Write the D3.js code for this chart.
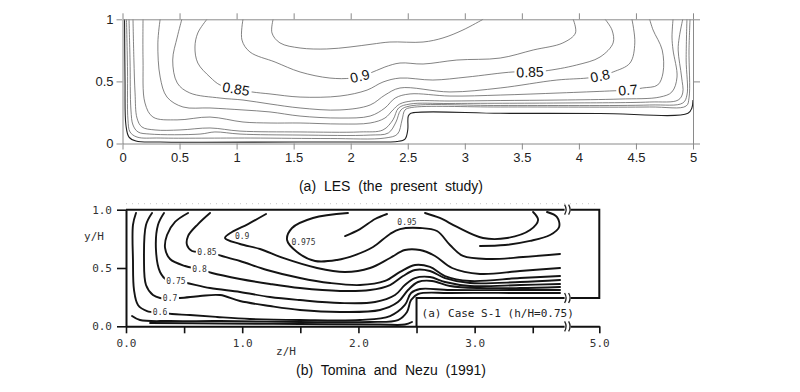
<!DOCTYPE html>
<html>
<head>
<meta charset="utf-8">
<script src="https://cdn.jsdelivr.net/npm/d3@7/dist/d3.min.js"></script>
<style>
html,body{margin:0;padding:0;background:#fff;}
svg{display:block;}
</style>
</head>
<body>
<svg id="chart" width="800" height="392"></svg>
<script>
// ================= Panel (a): LES (the present study) =================
const lesTickValuesX = [0, 0.5, 1, 1.5, 2, 2.5, 3, 3.5, 4, 4.5, 5];
const lesTickLabelsX = ["0", "0.5", "1", "1.5", "2", "2.5", "3", "3.5", "4", "4.5", "5"];
const lesTickValuesY = [0, 0.5, 1];
const lesTickLabelsY = ["0", "0.5", "1"];

// contour polylines [z/H, y/H]
const lesC1 = [[1.32,1.0],[1.31,0.89],[1.38,0.81],[1.556,0.769],[1.79,0.761],[1.994,0.777],[2.187,0.80],[2.344,0.817],[2.634,0.817],[2.809,0.85],[2.984,0.914],[3.16,1.0]];
const les090 = [[1.056,1.0],[1.047,0.833],[1.117,0.737],[1.337,0.656],[1.556,0.576],[1.818,0.527],[2.011,0.527],[2.152,0.56],[2.30,0.616],[2.432,0.648],[2.634,0.64],[2.93,0.672],[3.31,0.688],[3.60,0.753],[3.86,0.81],[3.97,0.89],[3.95,1.0]];
const les085 = [[0.74,1.0],[0.66,0.89],[0.635,0.777],[0.66,0.648],[0.767,0.535],[0.855,0.471],[0.995,0.439],[1.135,0.415],[1.293,0.399],[1.556,0.374],[1.906,0.382],[2.143,0.43],[2.283,0.495],[2.432,0.527],[2.72,0.511],[3.02,0.535],[3.423,0.576],[3.572,0.576],[3.70,0.584],[3.98,0.632],[4.185,0.696],[4.30,0.81],[4.29,0.914],[4.23,1.0]];
const les080 = [[0.52,1.0],[0.48,0.857],[0.44,0.672],[0.48,0.487],[0.59,0.407],[0.855,0.366],[1.056,0.35],[1.293,0.318],[1.556,0.286],[1.906,0.27],[2.17,0.31],[2.30,0.39],[2.432,0.447],[2.87,0.415],[3.31,0.447],[3.807,0.511],[4.07,0.527],[4.185,0.543],[4.30,0.576],[4.448,0.648],[4.49,0.81],[4.465,1.0]];
const les070 = [[0.33,1.0],[0.31,0.81],[0.33,0.535],[0.39,0.374],[0.53,0.294],[0.767,0.286],[1.056,0.27],[1.293,0.254],[1.556,0.221],[1.906,0.205],[2.17,0.221],[2.30,0.286],[2.39,0.366],[2.52,0.399],[2.87,0.382],[3.31,0.39],[3.834,0.407],[4.27,0.423],[4.43,0.43],[4.56,0.447],[4.69,0.471],[4.737,0.568],[4.73,0.753],[4.65,0.914],[4.62,1.0]];
const les060 = [[0.18,1.0],[0.18,0.672],[0.197,0.326],[0.267,0.213],[0.478,0.19],[0.767,0.213],[1.056,0.173],[1.293,0.165],[1.556,0.165],[1.906,0.157],[2.17,0.165],[2.30,0.205],[2.37,0.27],[2.43,0.318],[2.535,0.342],[2.87,0.342],[3.31,0.346],[3.834,0.35],[4.36,0.358],[4.71,0.374],[4.815,0.415],[4.86,0.535],[4.825,0.753],[4.816,0.857],[4.825,1.0]];
const les050 = [[0.092,1.0],[0.10,0.672],[0.11,0.407],[0.127,0.205],[0.17,0.133],[0.285,0.109],[0.504,0.109],[0.767,0.125],[1.03,0.10],[1.556,0.093],[2.08,0.093],[2.283,0.109],[2.37,0.19],[2.42,0.286],[2.52,0.318],[2.87,0.322],[3.834,0.326],[4.62,0.334],[4.87,0.35],[4.91,0.407],[4.90,0.535],[4.87,0.753],[4.88,0.857],[4.91,1.0]];
const les040 = [[0.057,1.0],[0.066,0.672],[0.074,0.27],[0.092,0.149],[0.136,0.093],[0.24,0.076],[0.68,0.076],[0.81,0.093],[1.03,0.076],[1.556,0.068],[2.17,0.068],[2.33,0.085],[2.397,0.173],[2.44,0.27],[2.52,0.302],[3.31,0.306],[4.62,0.31],[4.91,0.326],[4.947,0.39],[4.94,0.672],[4.947,1.0]];
const les030 = [[0.035,1.0],[0.044,0.592],[0.048,0.19],[0.066,0.093],[0.127,0.052],[0.33,0.044],[1.12,0.044],[1.82,0.04],[2.30,0.044],[2.41,0.076],[2.45,0.19],[2.476,0.27],[2.535,0.29],[3.31,0.294],[4.62,0.294],[4.94,0.302],[4.965,0.366],[4.965,0.753],[4.974,1.0]];
const lesWall = [[0.018,1.0],[0.022,0.511],[0.03,0.149],[0.057,0.052],[0.118,0.02],[0.33,0.012],[1.556,0.012],[2.257,0.012],[2.406,0.016],[2.476,0.036],[2.50,0.109],[2.505,0.221],[2.527,0.243],[3.31,0.243],[4.185,0.242],[4.956,0.243],[4.99,0.286],[5.0,0.35]];

const lesLabelText  = ["0.85", "0.9", "0.85", "0.8", "0.7"];
const lesLabelZ     = [0.995, 2.08, 3.572, 4.185, 4.43];
const lesLabelY     = [0.44, 0.543, 0.576, 0.545, 0.432];
const lesLabelAngle = [10, -14, -2, -12, -5];

// ================= Panel (b): Tomina and Nezu (1991) =================
const tnTickValuesX = [0, 0.5, 1, 1.5, 2, 2.5, 3, 3.5, 5];
const tnTickLabelsX = ["0.0", "", "1.0", "", "2.0", "", "3.0", "", "5.0"];
const tnTickValuesY = [0, 0.5, 1];
const tnTickLabelsY = ["0.0", "0.5", "1.0"];
const tnStepZ = 2.5;
const tnStepY = 0.243;
const tnBreakZ = 3.8;

const tn060 = [[0.086,0.972],[0.06,0.869],[0.06,0.569],[0.069,0.311],[0.103,0.183],[0.181,0.131],[0.293,0.118],[0.396,0.105],[0.55,0.097],[0.783,0.08],[1.067,0.063],[1.497,0.054],[2.014,0.054],[2.272,0.088],[2.40,0.183],[2.453,0.286],[2.53,0.32],[2.788,0.311],[3.39,0.311],[3.735,0.311]];
const tn070 = [[0.224,0.972],[0.172,0.869],[0.155,0.569],[0.172,0.354],[0.232,0.268],[0.293,0.243],[0.379,0.243],[0.465,0.243],[0.637,0.26],[0.809,0.268],[0.981,0.217],[1.239,0.174],[1.497,0.14],[1.842,0.123],[2.186,0.14],[2.34,0.208],[2.427,0.311],[2.513,0.38],[2.633,0.389],[2.788,0.346],[3.046,0.328],[3.39,0.328],[3.735,0.337]];
const tn075 = [[0.327,0.972],[0.275,0.869],[0.258,0.654],[0.293,0.466],[0.353,0.397],[0.43,0.389],[0.525,0.371],[0.723,0.328],[0.981,0.294],[1.239,0.251],[1.497,0.225],[1.842,0.2],[2.143,0.208],[2.315,0.268],[2.40,0.354],[2.487,0.414],[2.616,0.423],[2.745,0.38],[2.96,0.346],[3.39,0.354],[3.735,0.363]];
const tn080 = [[0.534,0.972],[0.422,0.895],[0.353,0.783],[0.336,0.672],[0.379,0.577],[0.508,0.517],[0.633,0.491],[0.74,0.457],[0.981,0.406],[1.239,0.363],[1.497,0.328],[1.842,0.303],[2.1,0.311],[2.272,0.354],[2.384,0.431],[2.487,0.483],[2.616,0.474],[2.745,0.414],[2.96,0.371],[3.39,0.38],[3.735,0.397]];
const tn085 = [[0.723,0.972],[0.62,0.877],[0.534,0.774],[0.525,0.697],[0.568,0.646],[0.697,0.637],[0.826,0.603],[0.981,0.56],[1.213,0.483],[1.497,0.414],[1.756,0.371],[2.014,0.354],[2.229,0.389],[2.358,0.466],[2.487,0.526],[2.616,0.509],[2.745,0.431],[2.96,0.389],[3.39,0.414],[3.735,0.431]];
const tn090 = [[1.205,0.963],[1.05,0.877],[0.912,0.809],[0.852,0.757],[0.981,0.706],[1.153,0.663],[1.351,0.586],[1.644,0.5],[1.885,0.466],[2.1,0.5],[2.272,0.586],[2.40,0.654],[2.53,0.654],[2.659,0.603],[2.806,0.5],[3.046,0.449],[3.39,0.474],[3.735,0.5]];
const tn095 = [[1.91,0.972],[1.609,0.929],[1.429,0.843],[1.386,0.74],[1.472,0.637],[1.627,0.56],[1.816,0.569],[1.971,0.611],[2.126,0.68],[2.272,0.792],[2.358,0.834],[2.53,0.843],[2.676,0.817],[2.788,0.697],[2.9,0.603],[3.132,0.577],[3.417,0.594],[3.735,0.62]];
const tn0975a = [[1.885,0.774],[2.014,0.834],[2.143,0.92],[2.246,0.963]];
const tn0975b = [[2.573,0.972],[2.70,0.929],[2.849,0.852],[3.072,0.757],[3.279,0.757],[3.477,0.826],[3.546,0.912],[3.503,0.98]];
const tnHook = [[3.623,0.98],[3.709,0.937],[3.727,0.852],[3.649,0.783],[3.477,0.732],[3.262,0.697],[3.046,0.689]];
const tn050 = [[0.052,0.088],[0.12,0.054],[0.379,0.045],[0.809,0.045],[1.497,0.037],[2.1,0.037],[2.34,0.054],[2.418,0.123],[2.453,0.225],[2.513,0.277],[2.788,0.286],[3.39,0.286],[3.735,0.286]];
const tn040 = [[0.207,0.028],[0.809,0.024],[1.497,0.02],[2.186,0.015],[2.40,0.015],[2.461,0.037]];

const tnLabelText  = ["0.6", "0.7", "0.75", "0.8", "0.85", "0.9", "0.975", "0.95"];
const tnLabelZ     = [0.293, 0.379, 0.43, 0.633, 0.697, 1.0, 1.527, 2.418];
const tnLabelY     = [0.118, 0.243, 0.389, 0.491, 0.637, 0.772, 0.719, 0.894];
const tnLabelOnLine = [true, true, true, true, true, false, false, false];

// ======================================================================
const svg = d3.select("#chart");
svg.append("rect").attr("width", 800).attr("height", 392).attr("fill", "#fff");

const sansFont = "'Liberation Sans', Arial, Helvetica, sans-serif";
const monoFont = "'DejaVu Sans Mono', 'Liberation Mono', monospace";

// ---------- panel (a) ----------
const xT = d3.scaleLinear().domain([0, 5]).range([122.5, 693]);
const yT = d3.scaleLinear().domain([0, 1]).range([143.5, 19.3]);
const lineT = d3.line().x(d => xT(d[0])).y(d => yT(d[1])).curve(d3.curveCatmullRom.alpha(0.5));

const gT = svg.append("g");
const lesContours = [lesC1, les090, les085, les080, les070, les060, les050, les040, les030];
gT.selectAll("path.cT").data(lesContours).enter().append("path")
  .attr("class", "cT")
  .attr("d", lineT)
  .attr("fill", "none").attr("stroke", "#5a5a5a").attr("stroke-width", 0.75);
gT.append("path").attr("d", lineT(lesWall))
  .attr("fill", "none").attr("stroke", "#222").attr("stroke-width", 1.1);

function styleAxisT(g) {
  g.attr("font-family", sansFont).attr("font-size", 13);
  g.select(".domain").attr("stroke", "#8a8a8a").attr("stroke-width", 1);
  g.selectAll(".tick line").attr("stroke", "#8a8a8a").attr("stroke-width", 1);
  g.selectAll(".tick text").attr("fill", "#222");
}
gT.append("g").attr("transform", `translate(0,${yT(0)})`)
  .call(d3.axisBottom(xT).tickValues(lesTickValuesX).tickFormat((d, i) => lesTickLabelsX[i]).tickSize(6).tickSizeOuter(0).tickPadding(3))
  .call(styleAxisT);
gT.append("g").attr("transform", `translate(0,${yT(1)})`)
  .call(d3.axisTop(xT).tickValues(lesTickValuesX).tickFormat("").tickSize(6).tickSizeOuter(0))
  .call(styleAxisT);
gT.append("g").attr("transform", `translate(${xT(0)},0)`)
  .call(d3.axisLeft(yT).tickValues(lesTickValuesY).tickFormat((d, i) => lesTickLabelsY[i]).tickSize(6).tickSizeOuter(0).tickPadding(3))
  .call(styleAxisT);
gT.append("g").attr("transform", `translate(${xT(5)},0)`)
  .call(d3.axisRight(yT).tickValues(lesTickValuesY).tickFormat("").tickSize(7).tickSizeOuter(0))
  .call(styleAxisT);

lesLabelText.forEach((t, i) => {
  const g = gT.append("g")
    .attr("transform", `translate(${xT(lesLabelZ[i])},${yT(lesLabelY[i])}) rotate(${lesLabelAngle[i]})`);
  const txt = g.append("text").text(t)
    .attr("text-anchor", "middle").attr("dy", "0.36em")
    .attr("font-family", sansFont).attr("font-size", 14).attr("fill", "#111");
  const bb = txt.node().getBBox();
  g.insert("rect", "text").attr("x", bb.x - 2).attr("y", bb.y + 2).attr("width", bb.width + 4).attr("height", bb.height - 4).attr("fill", "#fff");
});

svg.append("text").attr("x", 391).attr("y", 191).attr("text-anchor", "middle")
  .attr("font-family", sansFont).attr("font-size", 14).attr("word-spacing", 4).attr("fill", "#111")
  .text("(a) LES (the present study)");

// ---------- panel (b) ----------
const xB = d3.scaleLinear().domain([0, tnBreakZ, 5]).range([126, 567.6, 599.3]);
const yB = d3.scaleLinear().domain([0, 1]).range([326.3, 209.7]);
const lineB = d3.line().x(d => xB(d[0])).y(d => yB(d[1])).curve(d3.curveCatmullRom.alpha(0.5));

const gB = svg.append("g");
// faint scan line above frame
gB.append("line").attr("x1", xB(0)).attr("x2", xB(5)).attr("y1", yB(1) - 6).attr("y2", yB(1) - 6)
  .attr("stroke", "#c8c8c8").attr("stroke-width", 1).attr("stroke-dasharray", "1,5");

const tnContours = [tn060, tn070, tn075, tn080, tn085, tn090, tn095, tn0975a, tn0975b, tnHook, tn050, tn040];
gB.selectAll("path.cB").data(tnContours).enter().append("path")
  .attr("class", "cB")
  .attr("d", lineB)
  .attr("fill", "none").attr("stroke", "#141414").attr("stroke-width", 1.9)
  .attr("stroke-linecap", "round").attr("stroke-linejoin", "round");

// frame: top border, right border, step
gB.append("path")
  .attr("d", `M${xB(0)},${yB(1)} H${xB(5)} V${yB(tnStepY)} H${xB(tnStepZ)} V${yB(0)}`)
  .attr("fill", "none").attr("stroke", "#111").attr("stroke-width", 2);

function styleAxisB(g) {
  g.attr("font-family", monoFont).attr("font-size", 11);
  g.select(".domain").attr("stroke", "#111").attr("stroke-width", 2);
  g.selectAll(".tick line").attr("stroke", "#111").attr("stroke-width", 1.6);
  g.selectAll(".tick text").attr("fill", "#333");
}
gB.append("g").attr("transform", `translate(0,${yB(0)})`)
  .call(d3.axisBottom(xB).tickValues(tnTickValuesX).tickFormat((d, i) => tnTickLabelsX[i]).tickSize(7).tickSizeOuter(0).tickPadding(6))
  .call(styleAxisB);
gB.append("g").attr("transform", `translate(${xB(0)},0)`)
  .call(d3.axisLeft(yB).tickValues(tnTickValuesY).tickFormat((d, i) => tnTickLabelsY[i]).tickSize(9).tickSizeOuter(0).tickPadding(5))
  .call(styleAxisB);

// axis breaks
function breakMark(x, y) {
  gB.append("rect").attr("x", x - 3).attr("y", y - 2).attr("width", 6).attr("height", 4).attr("fill", "#fff");
  [-3, 1].forEach(dx => {
    gB.append("path").attr("d", `M${x + dx},${y - 5} Q${x + dx + 3},${y} ${x + dx},${y + 5}`)
      .attr("fill", "none").attr("stroke", "#222").attr("stroke-width", 1.3);
  });
}
breakMark(xB(tnBreakZ), yB(1));
breakMark(xB(tnBreakZ), yB(tnStepY));
breakMark(xB(tnBreakZ), yB(0));

tnLabelText.forEach((t, i) => {
  const g = gB.append("g").attr("transform", `translate(${xB(tnLabelZ[i])},${yB(tnLabelY[i])})`);
  const txt = g.append("text").text(t)
    .attr("text-anchor", "middle").attr("dy", "0.35em")
    .attr("font-family", monoFont).attr("font-size", 8).attr("fill", "#333");
  if (tnLabelOnLine[i]) {
    const bb = txt.node().getBBox();
    g.insert("rect", "text").attr("x", bb.x - 1.5).attr("y", bb.y).attr("width", bb.width + 3).attr("height", bb.height).attr("fill", "#fff");
  }
});

gB.append("text").attr("x", 94).attr("y", yB(0.77)).attr("dy", "0.35em").attr("text-anchor", "middle")
  .attr("font-family", monoFont).attr("font-size", 11).attr("fill", "#333").text("y/H");
gB.append("text").attr("x", 286).attr("y", 351).attr("dy", "0.35em").attr("text-anchor", "middle")
  .attr("font-family", monoFont).attr("font-size", 11).attr("fill", "#333").text("z/H");
gB.append("text").attr("x", xB(tnStepZ) + 5).attr("y", 313).attr("dy", "0.35em")
  .attr("font-family", monoFont).attr("font-size", 11).attr("fill", "#222").text("(a) Case S-1 (h/H=0.75)");

svg.append("text").attr("x", 391).attr("y", 375).attr("text-anchor", "middle")
  .attr("font-family", sansFont).attr("font-size", 14).attr("word-spacing", 4).attr("fill", "#111")
  .text("(b) Tomina and Nezu (1991)");
</script>
</body>
</html>
